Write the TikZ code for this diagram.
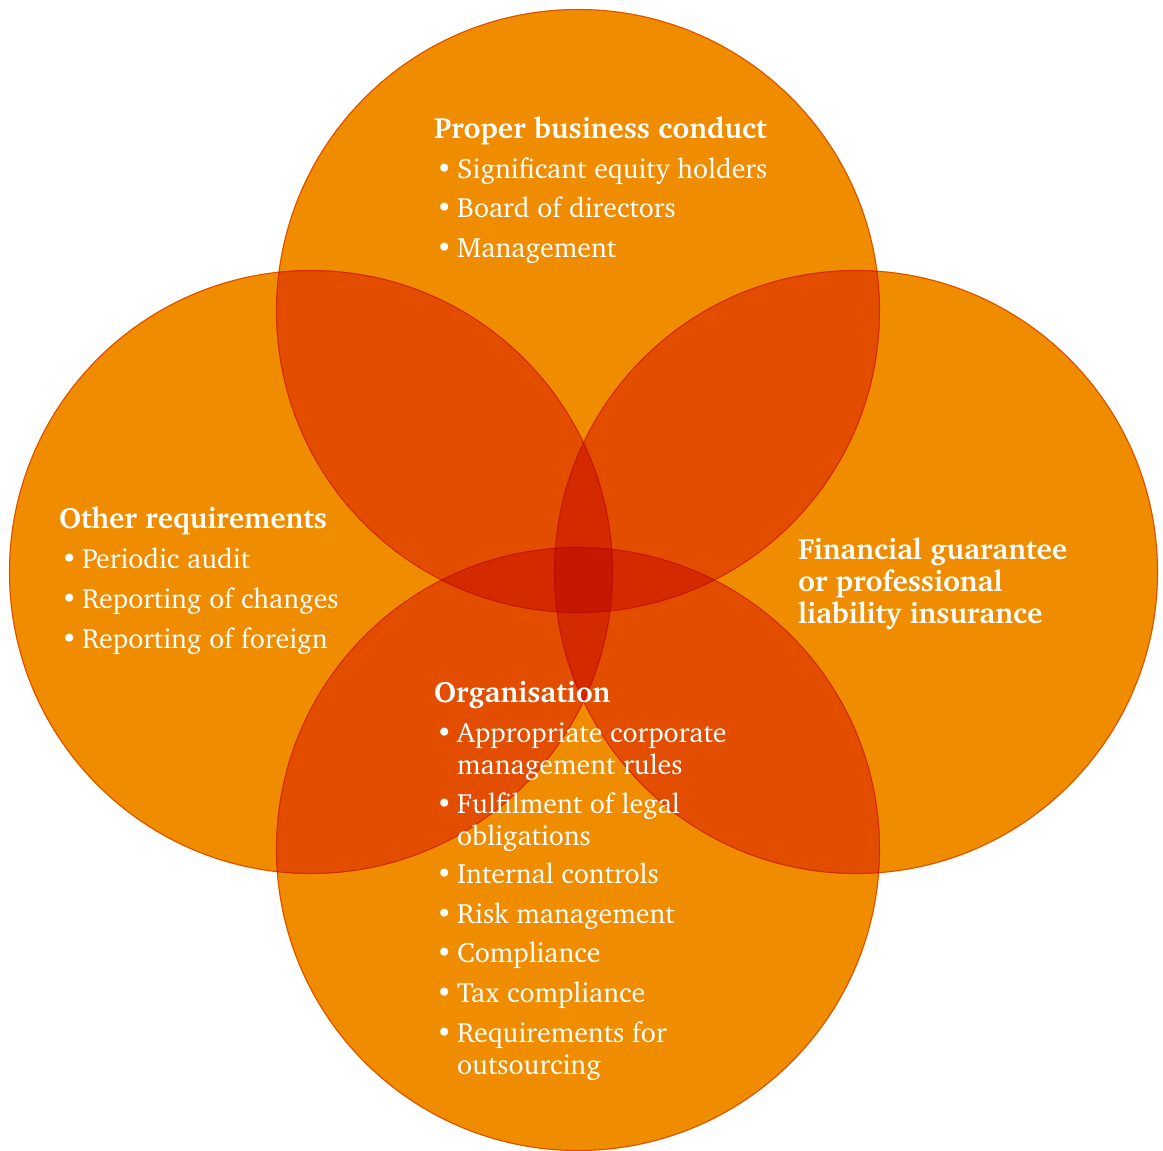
\documentclass[tikz,border=0pt]{standalone}
\usepackage[T1]{fontenc}
\usepackage{charter}
\usepackage{textcomp}
\definecolor{cone}{RGB}{240,140,0}
\definecolor{ctwo}{RGB}{226,77,0}
\definecolor{cthree}{RGB}{213,42,0}
\definecolor{cfour}{RGB}{200,23,0}
\definecolor{crim}{RGB}{245,180,120}
\newcommand\cA{(578,311) circle[radius=302]}
\newcommand\cL{(311,572) circle[radius=302]}
\newcommand\cR{(856,572) circle[radius=302]}
\newcommand\cB{(578,849) circle[radius=302]}
\tikzset{
  txt/.style={text=white, anchor=base west, inner sep=0pt, font=\fontsize{27.9}{32}\selectfont},
  ttl/.style={text=white, anchor=base west, inner sep=0pt, font=\fontsize{29.3}{32}\selectfont\bfseries},
  rim/.style={draw=cone, line width=1.1, blend mode=multiply}
}
\begin{document}
\begin{tikzpicture}[x=1pt,y=-1pt]
\useasboundingbox (0,0) rectangle (1163,1151);
% single
\fill[cone] \cA; \fill[cone] \cL; \fill[cone] \cR; \fill[cone] \cB;
% pairs
\begin{scope}\clip \cA; \fill[ctwo] \cL; \fill[ctwo] \cR; \fill[ctwo] \cB;\end{scope}
\begin{scope}\clip \cL; \fill[ctwo] \cR; \fill[ctwo] \cB;\end{scope}
\begin{scope}\clip \cR; \fill[ctwo] \cB;\end{scope}
% triples
\begin{scope}\clip \cA; \clip \cL; \fill[cthree] \cR; \fill[cthree] \cB;\end{scope}
\begin{scope}\clip \cA; \clip \cR; \fill[cthree] \cB;\end{scope}
\begin{scope}\clip \cL; \clip \cR; \fill[cthree] \cB;\end{scope}
% quadruple
\begin{scope}\clip \cA; \clip \cL; \clip \cR; \fill[cfour] \cB;\end{scope}
% rims
\draw[rim] (578,311) circle[radius=301.5];
\draw[rim] (311,572) circle[radius=301.5];
\draw[rim] (856,572) circle[radius=301.5];
\draw[rim] (578,849) circle[radius=301.5];

% top block
\node[ttl] (t0) at (434,138) {Proper business conduct};
\node[txt] (tb1) at (436,178) {\textbullet};
\node[txt] (t1) at (457,178) {Significant equity holders};
\node[txt] (tb2) at (436,217) {\textbullet};
\node[txt] (t2) at (457,217) {Board of directors};
\node[txt] (tb3) at (436,257) {\textbullet};
\node[txt] (t3) at (457,257) {Management};

% left block
\node[ttl] (l0) at (59,528) {Other requirements};
\node[txt] (lb1) at (61,568) {\textbullet};
\node[txt] (l1) at (82,568) {Periodic audit};
\node[txt] (lb2) at (61,608) {\textbullet};
\node[txt] (l2) at (82,608) {Reporting of changes};
\node[txt] (lb3) at (61,648) {\textbullet};
\node[txt] (l3) at (82,648) {Reporting of foreign};

% right block
\node[ttl] (r1) at (798,559) {Financial guarantee};
\node[ttl] (r2) at (798,591) {or professional};
\node[ttl] (r3) at (798,623) {liability insurance};

% bottom block
\node[ttl] (b0) at (434,702) {Organisation};
\node[txt] (bb1) at (436,742) {\textbullet};
\node[txt] (b1) at (457,742) {Appropriate corporate};
\node[txt] (b1x) at (457,774) {management rules};
\node[txt] (bb2) at (436,813) {\textbullet};
\node[txt] (b2) at (457,813) {Fulfilment of legal};
\node[txt] (b2x) at (457,845) {obligations};
\node[txt] (bb3) at (436,883) {\textbullet};
\node[txt] (b3) at (457,883) {Internal controls};
\node[txt] (bb4) at (436,923) {\textbullet};
\node[txt] (b4) at (457,923) {Risk management};
\node[txt] (bb5) at (436,962) {\textbullet};
\node[txt] (b5) at (457,962) {Compliance};
\node[txt] (bb6) at (436,1002) {\textbullet};
\node[txt] (b6) at (457,1002) {Tax compliance};
\node[txt] (bb7) at (436,1042) {\textbullet};
\node[txt] (b7) at (457,1042) {Requirements for};
\node[txt] (b7x) at (457,1074) {outsourcing};
\end{tikzpicture}
\end{document}
